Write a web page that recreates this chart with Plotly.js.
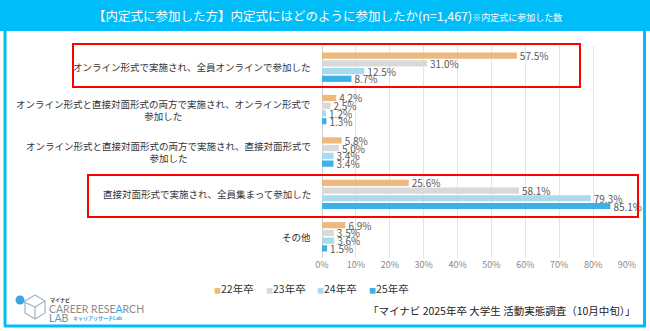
<!DOCTYPE html>
<html>
<head>
<meta charset="utf-8">
<script src="https://cdn.plot.ly/plotly-3.0.1.min.js"></script>
<style>html,body{margin:0;padding:0;background:#fff;}#chart{width:650px;height:331px;}</style>
</head>
<body>
<div id="chart"></div>
<script>
// ---- data ----
const categories = [
  "オンライン形式で実施され、全員オンラインで参加した",
  "オンライン形式と直接対面形式の両方で実施され、オンライン形式で<br>参加した",
  "オンライン形式と直接対面形式の両方で実施され、直接対面形式で<br>参加した",
  "直接対面形式で実施され、全員集まって参加した",
  "その他"
];
const seriesNames = ["22年卒", "23年卒", "24年卒", "25年卒"];
const values22 = [57.5, 4.2, 5.8, 25.6, 6.9];
const values23 = [31.0, 2.5, 5.0, 58.1, 3.5];
const values24 = [12.5, 1.2, 3.4, 79.3, 3.6];
const values25 = [8.7, 1.3, 3.4, 85.1, 1.5];
const tickValues = [0, 10, 20, 30, 40, 50, 60, 70, 80, 90];
const tickLabels = ["0%", "10%", "20%", "30%", "40%", "50%", "60%", "70%", "80%", "90%"];
const titleMain = "【内定式に参加した方】内定式にはどのように参加したか(n=1,467)";
const titleNote = "※内定式に参加した数";
const sourceText = "「マイナビ 2025年卒 大学生 活動実態調査（10月中旬）」";

// ---- styles ----
const colors = ["#EEB97C", "#D9D9D9", "#A9DAEE", "#3AB2E6"];
const FONT = "'Noto Sans CJK JP', 'Noto Sans', sans-serif";
const CYAN = "#00BCF7";
const W = 650, H = 331;
const M = {l: 322, r: 23, t: 46, b: 73};
const PW = W - M.l - M.r, PH = H - M.t - M.b;
const px = x => (x - M.l) / PW;
const py = y => (H - M.b - y) / PH;

const allValues = [values22, values23, values24, values25];
const traces = allValues.map((vals, i) => ({
  type: "bar",
  orientation: "h",
  name: seriesNames[i],
  y: categories,
  x: vals,
  marker: {color: colors[i]},
  text: vals.map(v => v.toFixed(1) + "%"),
  textposition: "outside",
  textfont: {family: FONT, size: 10, color: "#595959"},
  constraintext: "none",
  cliponaxis: false,
  hoverinfo: "none"
}));

const rectPx = (x0, y0, x1, y1, opts) => Object.assign({
  type: "rect", xref: "paper", yref: "paper",
  x0: px(x0), x1: px(x1), y0: py(y0), y1: py(y1)
}, opts);
const linePx = (x0, y0, x1, y1, opts) => Object.assign({
  type: "line", xref: "paper", yref: "paper",
  x0: px(x0), x1: px(x1), y0: py(y0), y1: py(y1)
}, opts);
const pathPx = (pts, opts) => Object.assign({
  type: "path", xref: "paper", yref: "paper",
  path: "M" + pts.map(p => px(p[0]) + "," + py(p[1])).join(" L")
}, opts);

const shapes = [
  rectPx(0, 0, 650, 31, {fillcolor: CYAN, line: {width: 0}, layer: "below"}),
  linePx(5, 30, 5, 326, {line: {color: CYAN, width: 3}}),
  linePx(644.5, 30, 644.5, 326, {line: {color: CYAN, width: 3}}),
  linePx(4, 326, 646, 326, {line: {color: CYAN, width: 3}}),
  // highlight boxes
  rectPx(73, 44, 580, 87, {line: {color: "#FF0000", width: 2}}),
  rectPx(88, 175, 638, 217, {line: {color: "#FF0000", width: 2}}),
  // logo
  pathPx([[35, 295], [45, 301], [45, 313], [35, 319], [25, 313], [25, 301], [35, 295]], {line: {color: "#9FB4C8", width: 1.2}}),
  pathPx([[20, 300], [35, 307], [45, 301]], {line: {color: "#9FB4C8", width: 1.2}}),
  pathPx([[35, 307], [35, 319]], {line: {color: "#9FB4C8", width: 1.2}}),
  {type: "circle", xref: "paper", yref: "paper", x0: px(15.5), x1: px(24.5), y0: py(304.5), y1: py(295.5),
   fillcolor: "#3AA8E0", line: {width: 0}}
];

const annotations = [];
// title
annotations.push({
  xref: "paper", yref: "paper", x: px(327), y: py(15), xanchor: "center", yanchor: "middle",
  showarrow: false,
  text: titleMain + "<span style='font-size:9px'>" + titleNote + "</span>",
  font: {family: FONT, size: 12.5, color: "#FFFFFF"}
});
// category labels
categories.forEach((c, i) => {
  annotations.push({
    xref: "paper", yref: "y", x: px(313), y: c, xanchor: "right", yanchor: "middle",
    align: "center", showarrow: false, text: c,
    font: {family: FONT, size: 9.5, color: "#333333"}
  });
});
// legend
seriesNames.forEach((n, i) => {
  annotations.push({
    xref: "paper", yref: "paper", x: px(212 + i * 51.5), y: py(288), xanchor: "left", yanchor: "middle",
    showarrow: false,
    text: "<span style='color:" + colors[i] + ";font-size:7px'>■</span>" + n,
    font: {family: FONT, size: 10.5, color: "#333333"}
  });
});
// source
annotations.push({
  xref: "paper", yref: "paper", x: px(638), y: py(310), xanchor: "right", yanchor: "middle",
  showarrow: false, text: sourceText,
  font: {family: FONT, size: 10.5, color: "#222222"}
});
// logo text
annotations.push({xref: "paper", yref: "paper", x: px(48), y: py(299.5), xanchor: "left", yanchor: "middle",
  showarrow: false, text: "<b>マイナビ</b>", font: {family: FONT, size: 5, color: "#333"}});
annotations.push({xref: "paper", yref: "paper", x: px(47), y: py(308.5), xanchor: "left", yanchor: "middle",
  showarrow: false, text: "CAREER RESE<span style='color:#3AA8E0'>A</span>RCH",
  font: {family: "Lato, 'Noto Sans', sans-serif", size: 10.5, color: "#8C8C8C"}});
annotations.push({xref: "paper", yref: "paper", x: px(47), y: py(318), xanchor: "left", yanchor: "middle",
  showarrow: false, text: "L<span style='color:#3AA8E0'>A</span>B",
  font: {family: "Lato, 'Noto Sans', sans-serif", size: 10.5, color: "#8C8C8C"}});
annotations.push({xref: "paper", yref: "paper", x: px(71), y: py(318), xanchor: "left", yanchor: "middle",
  showarrow: false, text: "<b>キャリアリサーチLab</b>", font: {family: FONT, size: 5, color: "#3AA8E0"}});

const layout = {
  width: W, height: H,
  margin: M,
  paper_bgcolor: "#FFFFFF", plot_bgcolor: "#FFFFFF",
  barmode: "group", bargap: 0.27, bargroupgap: 0.2,
  showlegend: false,
  font: {family: FONT},
  xaxis: {
    range: [0, 90], tickvals: tickValues, ticktext: tickLabels,
    showgrid: true, gridcolor: "#E4E4E4", gridwidth: 1,
    zeroline: true, zerolinecolor: "#D0D0D0", zerolinewidth: 1,
    showline: false, ticks: "",
    tickfont: {family: FONT, size: 9, color: "#8A8A8A"}
  },
  yaxis: {
    autorange: "reversed", showticklabels: false, ticks: "",
    showgrid: false, zeroline: false, showline: false
  },
  shapes: shapes,
  annotations: annotations
};

Plotly.newPlot("chart", traces, layout, {displayModeBar: false, staticPlot: true});
</script>
</body>
</html>
